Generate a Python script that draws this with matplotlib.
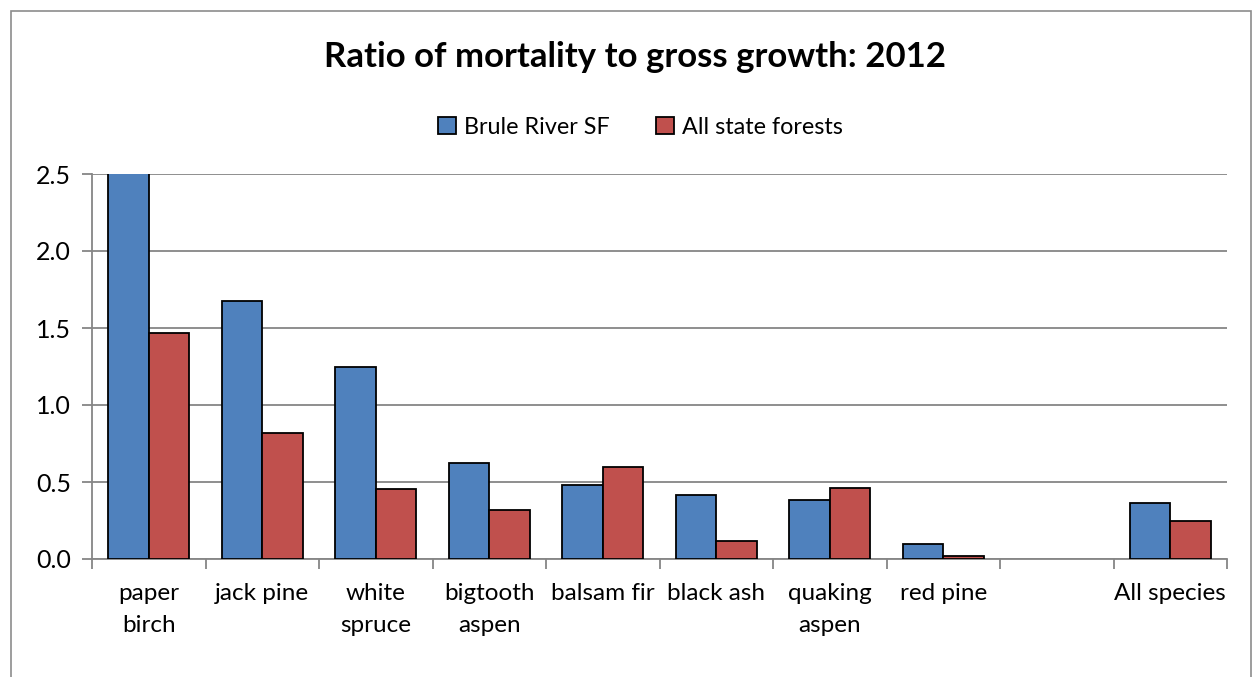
import matplotlib.pyplot as plt
from matplotlib.patches import Rectangle
import numpy as np

species = ['paper\nbirch', 'jack pine', 'white\nspruce', 'bigtooth\naspen',
           'balsam fir', 'black ash', 'quaking\naspen', 'red pine', '', 'All species']
brule = [2.78, 1.675, 1.25, 0.625, 0.48, 0.415, 0.38, 0.095, np.nan, 0.365]
state = [1.47, 0.82, 0.455, 0.32, 0.60, 0.115, 0.46, 0.02, np.nan, 0.25]

BLUE = '#4F81BD'
RED = '#C0504D'
GRID = '#868686'
FONT = 'Lato'

fig = plt.figure(figsize=(12.54, 6.77), dpi=100)
# chart frame
fig.patches.append(Rectangle((11 / 1254, -0.05), 1240 / 1254, 1 - 11 / 677 + 0.05,
                             transform=fig.transFigure, fill=False,
                             edgecolor='#8c8c8c', linewidth=1.2))

ax = fig.add_axes([92 / 1254, 1 - 559 / 677, 1135 / 1254, 385 / 677])
x = np.arange(len(species))
w = 0.357
ax.bar(x - w / 2, brule, w, color=BLUE, edgecolor='black', linewidth=1.3,
       label='Brule River SF', zorder=3)
ax.bar(x + w / 2, state, w, color=RED, edgecolor='black', linewidth=1.3,
       label='All state forests', zorder=3)

ax.set_xlim(-0.5, len(species) - 0.5)
ax.set_ylim(0, 2.5)
ax.set_yticks([0, 0.5, 1.0, 1.5, 2.0, 2.5])
ax.set_yticklabels(['%.1f' % v for v in [0, 0.5, 1.0, 1.5, 2.0, 2.5]],
                   fontsize=18, family=FONT)
ax.yaxis.grid(True, color=GRID, linewidth=1.3, zorder=0)

# category boundaries as major ticks, names on minor ticks
ax.set_xticks(np.arange(len(species) + 1) - 0.5)
ax.set_xticklabels([])
ax.set_xticks(x, minor=True)
ax.set_xticklabels(species, minor=True, fontsize=17.5, family=FONT,
                   linespacing=1.65)
ax.tick_params(axis='x', which='minor', length=0, pad=17)
ax.tick_params(axis='x', which='major', length=7, color=GRID, width=1.3)
ax.tick_params(axis='y', length=7, color=GRID, width=1.3, pad=8)

for s in ['top', 'right']:
    ax.spines[s].set_visible(False)
for s in ['left', 'bottom']:
    ax.spines[s].set_color(GRID)
    ax.spines[s].set_linewidth(1.3)

fig.text(0.506, 1 - 57 / 677, 'Ratio of mortality to gross growth: 2012',
         ha='center', va='center', fontsize=25, fontweight='bold', family=FONT)
fig.legend(loc='center', bbox_to_anchor=(0.5108, 1 - 127 / 677), ncol=2,
           frameon=False, prop={'family': FONT, 'size': 16.8},
           handlelength=0.75, handleheight=0.75, columnspacing=2.0,
           handletextpad=0.35)

fig.savefig('out.png', dpi=100)
